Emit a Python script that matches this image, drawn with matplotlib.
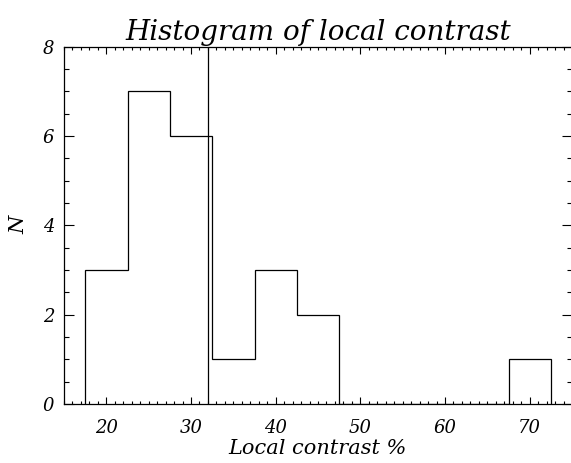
import matplotlib
matplotlib.use("Agg")
import matplotlib.pyplot as plt
from matplotlib.ticker import MultipleLocator

bin_edges = [17.5, 22.5, 27.5, 32.5, 37.5, 42.5, 47.5, 52.5, 57.5, 62.5, 67.5, 72.5]
counts = [3, 7, 6, 1, 3, 2, 0, 0, 0, 0, 1]
mean_value = 32.0
title = "Histogram of local contrast"
xlabel = "Local contrast %"
ylabel = "N"

font = dict(family="DejaVu Serif", style="italic")

fig = plt.figure(figsize=(5.71, 4.63), dpi=100)
ax = fig.add_axes([64/571, (463-404)/463, (572-64)/571, (404-46.7)/463])

ax.stairs(counts, bin_edges, baseline=0, fill=False, color="black", lw=0.9)
ax.axvline(mean_value, color="black", lw=0.9)

ax.set_xlim(15, 75)
ax.set_ylim(0, 8)
ax.xaxis.set_major_locator(MultipleLocator(10))
ax.xaxis.set_minor_locator(MultipleLocator(1))
ax.yaxis.set_major_locator(MultipleLocator(2))
ax.yaxis.set_minor_locator(MultipleLocator(0.5))
ax.tick_params(axis="both", which="both", direction="in", top=True, right=True, width=0.8, color="black")
ax.tick_params(axis="x", which="major", length=5, pad=11)
ax.tick_params(axis="x", which="minor", length=2.5)
ax.tick_params(axis="y", which="major", length=7, pad=7)
ax.tick_params(axis="y", which="minor", length=3.5)
for s in ax.spines.values():
    s.set_linewidth(0.9)

for lab in ax.get_xticklabels() + ax.get_yticklabels():
    lab.set_fontfamily("DejaVu Serif")
    lab.set_fontstyle("italic")
    lab.set_fontsize(13)

ax.set_title(title, fontsize=20, pad=5, **font)
ax.set_xlabel(xlabel, fontsize=15, labelpad=1, **font)
ax.set_ylabel(ylabel, fontsize=15, labelpad=10, **font)

fig.savefig("out.png", dpi=100)
